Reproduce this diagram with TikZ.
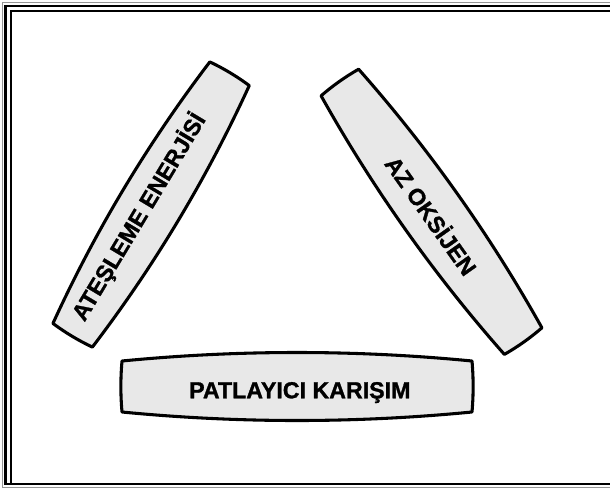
\documentclass[tikz,border=0pt]{standalone}
\usepackage{fontspec}
\setmainfont{Liberation Sans}[BoldFeatures={FakeBold=1.2}]
\definecolor{barfill}{RGB}{232,232,232}
\definecolor{edgegray}{RGB}{150,150,150}
\tikzset{
  barstyle/.style={draw=black, fill=barfill, line width=2.3pt, line join=round},
  lbl/.style={font=\fontsize{17.4}{20}\selectfont\bfseries, inner sep=0pt},
  pics/barrel/.style n args={3}{code={
    \draw[barstyle] (-#1,#2) .. controls (-#1/3,#2+#3*4/3) and (#1/3,#2+#3*4/3) .. (#1,#2)
      .. controls (#1+1.5,#2/3) and (#1+1.5,-#2/3) .. (#1,-#2)
      .. controls (#1/3,-#2-#3*4/3) and (-#1/3,-#2-#3*4/3) .. (-#1,-#2)
      .. controls (-#1-1.5,-#2/3) and (-#1-1.5,#2/3) .. cycle;
  }}
}
\begin{document}
\begin{tikzpicture}[x=0.75pt,y=-0.75pt]
\useasboundingbox (0,0) rectangle (610,489);
% page border
\draw[edgegray, line width=0.9pt] (610,2.8) -- (2.8,2.8) -- (2.8,487.8) -- (610,487.8);
\draw[black, line width=1.9pt] (610,6) -- (5.6,6) -- (5.6,484) -- (610,484);
\draw[black, line width=1.1pt] (610,10.8) -- (10.8,10.8) -- (10.8,483);
% bars
\pic[rotate=59.04] at (151.1,204.5) {barrel={152.5}{23}{8.5}};
\pic[rotate=-54.67] at (431.5,211.8) {barrel={158.5}{23}{8.5}};
\pic at (297,386.5) {barrel={175}{25.5}{8.5}};
% labels
\node[lbl, rotate=59.04] (ign) at (139,217) {ATEŞLEME ENERJİSİ};
\node[lbl, rotate=-54.67] (oxy) at (432,215) {AZ OKSİJEN};
\node[lbl, anchor=base] (mix) at (299.8,398.3) {PATLAYICI KARIŞIM};
\end{tikzpicture}
\end{document}
